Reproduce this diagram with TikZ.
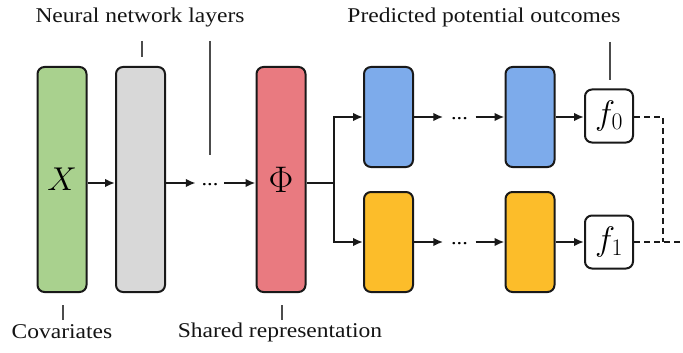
\RequirePackage{fix-cm}
\documentclass[tikz,border=0pt]{standalone}
\usepackage{fontspec}
\setmainfont{Liberation Serif}[FakeStretch=1.12]
\usetikzlibrary{arrows.meta}
\definecolor{cgreen}{RGB}{169,209,142}
\definecolor{cgray}{RGB}{216,216,216}
\definecolor{cred}{RGB}{233,122,128}
\definecolor{cblue}{RGB}{125,171,235}
\definecolor{corange}{RGB}{252,189,42}
\definecolor{ink}{RGB}{25,25,25}
\tikzset{
  layer/.style={draw=ink, line width=2pt, rounded corners=7pt,
    minimum width=49pt, minimum height=#1, inner sep=0pt},
  layer/.default=225pt,
  outbox/.style={draw=ink, line width=2pt, rounded corners=7pt, fill=white,
    minimum width=48pt, minimum height=53pt, inner sep=0pt},
  conn/.style={draw=ink, line width=2pt, -{Latex[length=10pt,width=8.5pt]}},
  seg/.style={draw=ink, line width=2pt},
  dashline/.style={draw=ink, line width=2pt, dash pattern=on 6pt off 4pt},
  dotsnode/.style={inner sep=0pt, minimum width=#1, font=\fontsize{20}{20}\selectfont},
  tick/.style={draw=black!70, line width=1.3pt},
  caption/.style={font=\fontsize{21}{23}\selectfont, text=black!92, inner sep=0pt},
  sym/.style={font=\fontsize{#1}{#1}\selectfont},
}
\begin{document}
\begin{tikzpicture}[x=1pt, y=-1pt]
  \useasboundingbox (0,0) rectangle (683,353);

  % shared trunk
  \node[layer, fill=cgreen, sym=33] (X) at (62,179.5) {$X$};
  \node[layer, fill=cgray] (L1) at (140.5,179.5) {};
  \node[dotsnode=28pt] (dA) at (210,183) {\raisebox{-6pt}{...}};
  \node[layer, fill=cred, sym=37] (Phi) at (281,179.5) {$\Phi$};

  % two heads
  \node[layer=100pt, fill=cblue] (B1) at (388.5,117) {};
  \node[dotsnode=32pt] (dT) at (459.5,117) {\raisebox{-6pt}{...}};
  \node[layer=100pt, fill=cblue] (B2) at (530,117) {};
  \node[layer=100pt, fill=corange] (O1) at (388.5,242) {};
  \node[dotsnode=32pt] (dB) at (459.5,242) {\raisebox{-6pt}{...}};
  \node[layer=100pt, fill=corange] (O2) at (530,242) {};

  \node[outbox, sym=34] (f0) at (609,116) {$f_0$};
  \node[outbox, sym=34] (f1) at (609,242) {$f_1$};

  % connectors
  \draw[conn] (X.east |- 0,183) -- (L1.west |- 0,183);
  \draw[conn] (L1.east |- 0,183) -- (dA.west);
  \draw[conn] (dA.east) -- (Phi.west |- 0,183);
  \coordinate (split) at (334,183);
  \draw[seg] (Phi.east |- 0,183) -- (split);
  \draw[conn] (split) |- (B1.west);
  \draw[conn] (split) |- (O1.west);
  \draw[conn] (B1.east) -- (dT.west);
  \draw[conn] (dT.east) -- (B2.west);
  \draw[conn] (O1.east) -- (dB.west);
  \draw[conn] (dB.east) -- (O2.west);
  \draw[conn] (B2.east) -- (f0.west |- B2.east);
  \draw[conn] (O2.east) -- (f1.west |- O2.east);

  % dashed output join
  \coordinate (join) at (663,242);
  \coordinate (outend) at (683,242);
  \draw[dashline] (f0.east |- 0,117) -| (join);
  \draw[dashline] (f1.east) -- (outend);

  % captions
  \node[caption] (nnl) at (140,17) {Neural network layers};
  \node[caption] (ppo) at (484,17) {Predicted potential outcomes};
  \node[caption] (cov) at (62,332) {Covariates};
  \node[caption] (shr) at (280,332) {Shared representation};

  \coordinate (t1a) at (142,41);  \coordinate (t1b) at (142,57);
  \coordinate (t2a) at (210,41);  \coordinate (t2b) at (210,155);
  \coordinate (t3a) at (610,42);  \coordinate (t3b) at (610,80);
  \coordinate (t4a) at (63,305);  \coordinate (t4b) at (63,320);
  \coordinate (t5a) at (282,305); \coordinate (t5b) at (282,320);
  \draw[tick] (t1a) -- (t1b);
  \draw[tick] (t2a) -- (t2b);
  \draw[tick] (t3a) -- (t3b);
  \draw[tick] (t4a) -- (t4b);
  \draw[tick] (t5a) -- (t5b);
\end{tikzpicture}
\end{document}
